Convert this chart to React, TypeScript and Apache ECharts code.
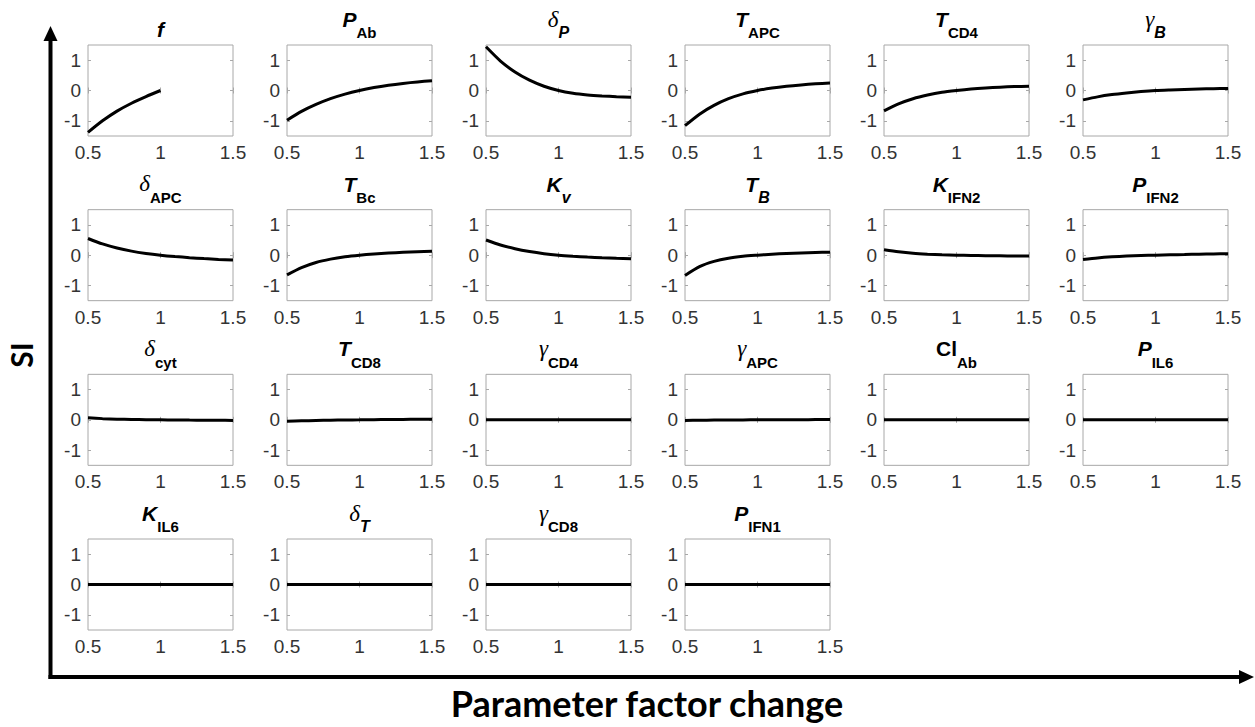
import React, { useEffect, useRef } from 'react';
import * as echarts from 'echarts';

// Parameter factor change (x values shared by all panels)
const xs = [0.5, 0.6, 0.7, 0.8, 0.9, 1.0, 1.1, 1.2, 1.3, 1.4, 1.5];
const xTicks = [0.5, 1, 1.5];
const yTicks = [-1, 0, 1];

// Sensitivity index (SI)
const siF = [-1.38, -1.0, -0.68, -0.42, -0.2, 0];
const siPAb = [-0.98, -0.69, -0.46, -0.27, -0.12, 0, 0.096, 0.173, 0.234, 0.283, 0.322];
const siDeltaP = [1.44, 0.97, 0.61, 0.34, 0.14, 0, -0.09, -0.145, -0.18, -0.205, -0.22];
const siTAPC = [-1.16, -0.78, -0.49, -0.27, -0.11, 0, 0.08, 0.14, 0.185, 0.22, 0.245];
const siTCD4 = [-0.67, -0.44, -0.27, -0.15, -0.06, 0, 0.05, 0.085, 0.11, 0.128, 0.14];
const siGammaB = [-0.31, -0.21, -0.135, -0.08, -0.035, 0, 0.02, 0.036, 0.049, 0.06, 0.07];
const siDeltaAPC = [0.55, 0.37, 0.235, 0.134, 0.058, 0, -0.045, -0.082, -0.113, -0.139, -0.16];
const siTBc = [-0.65, -0.41, -0.24, -0.13, -0.053, 0, 0.04, 0.07, 0.095, 0.115, 0.13];
const siKv = [0.5, 0.336, 0.213, 0.12, 0.05, 0, -0.035, -0.063, -0.086, -0.105, -0.12];
const siTB = [-0.67, -0.38, -0.206, -0.1, -0.038, 0, 0.033, 0.057, 0.075, 0.089, 0.1];
const siKIFN2 = [0.18, 0.11, 0.06, 0.03, 0.01, 0, -0.01, -0.017, -0.022, -0.026, -0.03];
const siPIFN2 = [-0.14, -0.09, -0.055, -0.03, -0.012, 0, 0.012, 0.022, 0.032, 0.04, 0.048];
const siDeltaCyt = [0.07, 0.04, 0.022, 0.011, 0.004, 0, -0.005, -0.009, -0.012, -0.015, -0.018];
const siTCD8 = [-0.05, -0.033, -0.02, -0.011, -0.004, 0, 0.006, 0.011, 0.015, 0.018, 0.02];
const siGammaCD4 = [0, 0, 0, 0, 0, 0, 0, 0, 0, 0, 0];
const siGammaAPC = [-0.02, -0.013, -0.008, -0.004, -0.002, 0, 0.002, 0.004, 0.006, 0.008, 0.01];
const siClAb = [0, 0, 0, 0, 0, 0, 0, 0, 0, 0, 0];
const siPIL6 = [0, 0, 0, 0, 0, 0, 0, 0, 0, 0, 0];
const siKIL6 = [0, 0, 0, 0, 0, 0, 0, 0, 0, 0, 0];
const siDeltaT = [0, 0, 0, 0, 0, 0, 0, 0, 0, 0, 0];
const siGammaCD8 = [0, 0, 0, 0, 0, 0, 0, 0, 0, 0, 0];
const siPIFN1 = [0, 0, 0, 0, 0, 0, 0, 0, 0, 0, 0];

// Panel titles: [style, text] pieces — main symbol then subscript
const titles: [string, string][][] = [
  [['mi', 'f']], [['mi', 'P'], ['s', 'Ab']], [['g', 'δ'], ['si', 'P']], [['mi', 'T'], ['s', 'APC']], [['mi', 'T'], ['s', 'CD4']], [['g', 'γ'], ['si', 'B']],
  [['g', 'δ'], ['s', 'APC']], [['mi', 'T'], ['s', 'Bc']], [['mi', 'K'], ['si', 'v']], [['mi', 'T'], ['si', 'B']], [['mi', 'K'], ['s', 'IFN2']], [['mi', 'P'], ['s', 'IFN2']],
  [['g', 'δ'], ['s', 'cyt']], [['mi', 'T'], ['s', 'CD8']], [['g', 'γ'], ['s', 'CD4']], [['g', 'γ'], ['s', 'APC']], [['mu', 'Cl'], ['s', 'Ab']], [['mi', 'P'], ['s', 'IL6']],
  [['mi', 'K'], ['s', 'IL6']], [['g', 'δ'], ['si', 'T']], [['g', 'γ'], ['s', 'CD8']], [['mi', 'P'], ['s', 'IFN1']],
];
const series = [
  siF, siPAb, siDeltaP, siTAPC, siTCD4, siGammaB,
  siDeltaAPC, siTBc, siKv, siTB, siKIFN2, siPIFN2,
  siDeltaCyt, siTCD8, siGammaCD4, siGammaAPC, siClAb, siPIL6,
  siKIL6, siDeltaT, siGammaCD8, siPIFN1,
];

const SANS = '"Liberation Sans", Arial, Helvetica, sans-serif';
const SERIF = '"Liberation Serif", "DejaVu Serif", serif';
const FONTS: Record<string, { family: string; weight: string; style: string; size: number; asc: number }> = {
  mi: { family: SANS, weight: 'bold', style: 'italic', size: 21, asc: 0.35 },
  mu: { family: SANS, weight: 'bold', style: 'normal', size: 21, asc: 0.35 },
  g: { family: SERIF, weight: 'normal', style: 'italic', size: 23, asc: 0.34 },
  s: { family: SANS, weight: 'bold', style: 'normal', size: 15, asc: 0.35 },
  si: { family: SANS, weight: 'bold', style: 'italic', size: 16, asc: 0.35 },
};

const COL0 = 88;
const COLSTEP = 199;
const ROW0 = 45;
const ROWSTEP = 164.67;
const PW = 145;
const PH = 91;
const BOX = '#a8a8a8';

function measure(text: string, k: string) {
  const f = FONTS[k];
  const ctx = document.createElement('canvas').getContext('2d')!;
  ctx.font = `${f.style} ${f.weight} ${f.size}px ${f.family}`;
  return ctx.measureText(text).width;
}

function buildOption() {
  const grid: any[] = [];
  const xAxis: any[] = [];
  const yAxis: any[] = [];
  const ser: any[] = [];
  const graphic: any[] = [];
  series.forEach((vals, i) => {
    const left = COL0 + (i % 6) * COLSTEP;
    const top = ROW0 + Math.floor(i / 6) * ROWSTEP;
    grid.push({ left, top, width: PW, height: PH, show: true, borderColor: BOX, borderWidth: 1, backgroundColor: 'transparent' });
    const tick = { show: true, inside: true, length: 3, lineStyle: { color: BOX, width: 1 } };
    xAxis.push({
      type: 'value', gridIndex: i, min: 0.5, max: 1.5, interval: 0.5, position: 'bottom',
      axisLine: { show: false }, splitLine: { show: false },
      axisTick: { ...tick, customValues: xTicks },
      axisLabel: { customValues: xTicks, fontSize: 19, color: '#333', fontFamily: SANS, margin: 7, showMinLabel: true, showMaxLabel: true },
    });
    xAxis.push({
      type: 'value', gridIndex: i, min: 0.5, max: 1.5, interval: 0.5, position: 'top',
      axisLine: { show: false }, splitLine: { show: false },
      axisTick: { ...tick, customValues: xTicks }, axisLabel: { show: false },
    });
    yAxis.push({
      type: 'value', gridIndex: i, min: -1.5, max: 1.5, interval: 0.5, position: 'left',
      axisLine: { show: false }, splitLine: { show: false },
      axisTick: { ...tick, customValues: yTicks },
      axisLabel: { customValues: yTicks, fontSize: 19, color: '#333', fontFamily: SANS, margin: 7 },
    });
    yAxis.push({
      type: 'value', gridIndex: i, min: -1.5, max: 1.5, interval: 0.5, position: 'right',
      axisLine: { show: false }, splitLine: { show: false },
      axisTick: { ...tick, customValues: yTicks }, axisLabel: { show: false },
    });
    ser.push({
      type: 'line', xAxisIndex: 2 * i, yAxisIndex: 2 * i,
      data: vals.map((v, k) => [xs[k], v]),
      showSymbol: false, smooth: 0.25,
      lineStyle: { color: '#000', width: 3 },
    });

    // title: main symbol + subscript
    const parts = titles[i];
    const widths = parts.map(([k, t]) => measure(t, k));
    const total = widths.reduce((a, b) => a + b, 0);
    let x = left + PW / 2 - total / 2;
    const hasSub = parts.length > 1;
    parts.forEach(([k, t], j) => {
      const f = FONTS[k];
      const baseline = j === 0 ? (hasSub ? top - 18 : top - 8) : top - 7;
      graphic.push({
        type: 'text', x, y: baseline - f.asc * f.size,
        style: {
          text: t, fontFamily: f.family, fontWeight: f.weight, fontStyle: f.style, fontSize: f.size,
          fill: '#000', align: 'left', verticalAlign: 'middle',
        },
      });
      x += widths[j];
    });
  });

  graphic.push(
    { type: 'line', shape: { x1: 50.5, y1: 38, x2: 50.5, y2: 679 }, style: { stroke: '#000', lineWidth: 4 } },
    { type: 'polygon', shape: { points: [[50.5, 26], [43.5, 41], [57.5, 41]] }, style: { fill: '#000' } },
    { type: 'line', shape: { x1: 48.5, y1: 677, x2: 1242, y2: 677 }, style: { stroke: '#000', lineWidth: 4 } },
    { type: 'polygon', shape: { points: [[1254, 677], [1239, 670], [1239, 684]] }, style: { fill: '#000' } },
    {
      type: 'text', x: 21, y: 355, rotation: Math.PI / 2,
      style: { text: 'SI', fontSize: 30, fontWeight: 'bold', fontFamily: 'Lato, "Open Sans", sans-serif', fill: '#000', align: 'center', verticalAlign: 'middle' },
    },
    {
      type: 'text', x: 647, y: 703,
      style: { text: 'Parameter factor change', fontSize: 36, fontWeight: 'bold', fontFamily: 'Lato, "Open Sans", sans-serif', fill: '#000', align: 'center', verticalAlign: 'middle' },
    },
  );

  return { animation: false, backgroundColor: '#fff', grid, xAxis, yAxis, series: ser, graphic };
}

export default function App() {
  const ref = useRef<HTMLDivElement>(null);
  useEffect(() => {
    document.body.style.margin = '0';
    const chart = echarts.init(ref.current!, null, { renderer: 'svg' });
    chart.setOption(buildOption() as any);
    return () => chart.dispose();
  }, []);
  return <div ref={ref} style={{ width: 1255, height: 727 }} />;
}
